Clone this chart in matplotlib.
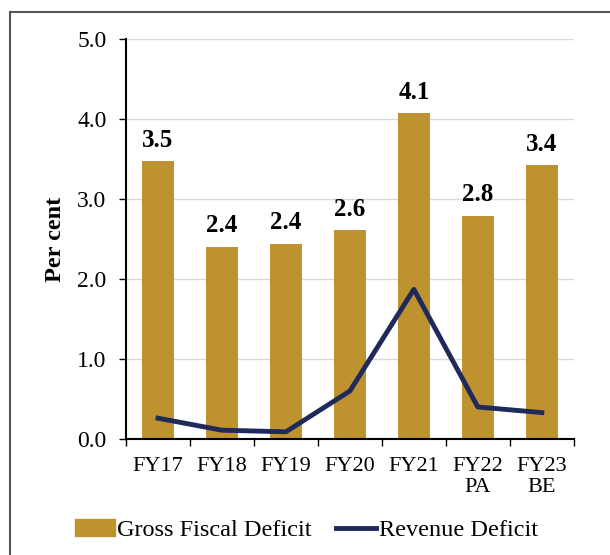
import matplotlib.pyplot as plt
from matplotlib.patches import Rectangle, Patch
from matplotlib.lines import Line2D

plt.rcParams['font.family'] = ['Liberation Serif', 'DejaVu Serif']

labels = ['FY17', 'FY18', 'FY19', 'FY20', 'FY21', 'FY22\nPA', 'FY23\nBE']
gfd = [3.47, 2.40, 2.44, 2.61, 4.07, 2.79, 3.42]
gfd_text = ['3.5', '2.4', '2.4', '2.6', '4.1', '2.8', '3.4']
rd = [0.26, 0.11, 0.09, 0.60, 1.87, 0.40, 0.33]

bar_color = '#BF9230'
line_color = '#1F2A5A'

fig = plt.figure(figsize=(6.1, 5.55), dpi=100)
ax = fig.add_axes([0.2066, 0.209, 0.734, 0.721])

x = list(range(len(labels)))
ax.bar(x, gfd, width=0.5, color=bar_color, zorder=2)
ax.plot(x, rd, color=line_color, linewidth=3.5, zorder=3)

for xi, v, t in zip(x, gfd, gfd_text):
    ax.text(xi, v + 0.12, t, ha='center', va='bottom', fontsize=18,
            fontweight='bold')

ax.set_xlim(-0.5, 6.5)
ax.set_ylim(0, 5)
ax.set_yticks([0, 1, 2, 3, 4, 5])
ax.set_yticklabels([f'{v:.1f}' for v in [0, 1, 2, 3, 4, 5]], fontsize=17)
ax.set_xticks(x)
ax.set_xticklabels(labels, fontsize=16, linespacing=1.15)
ax.tick_params(axis='x', length=0, pad=13)
ax.set_xticks([i + 0.5 for i in range(-1, 7)], minor=True)
ax.tick_params(axis='x', which='minor', length=5, width=1, direction='out')
ax.tick_params(axis='y', length=5, width=1, direction='out', pad=9)
ax.grid(axis='y', color='#d9d9d9', linewidth=1, zorder=0)
ax.set_axisbelow(True)
for s in ['top', 'right']:
    ax.spines[s].set_visible(False)
ax.spines['left'].set_linewidth(1.5)
ax.spines['bottom'].set_linewidth(1.5)
ax.set_ylabel('Per cent', fontsize=17.5, fontweight='bold', labelpad=8)

handles = [Patch(color=bar_color), Line2D([0], [0], color=line_color, linewidth=3.5)]
fig.legend(handles, ['Gross Fiscal Deficit', 'Revenue Deficit'],
           loc='center', bbox_to_anchor=(0.502, 0.045), ncol=2, frameon=False,
           fontsize=17.5, handlelength=1.65, handletextpad=0.1, columnspacing=1.0)

fig.patches.append(Rectangle((0.0164, -0.1), 1.2, 1.078, transform=fig.transFigure,
                             fill=False, edgecolor='#555555', linewidth=1.5))

fig.savefig('out.png', dpi=100)
